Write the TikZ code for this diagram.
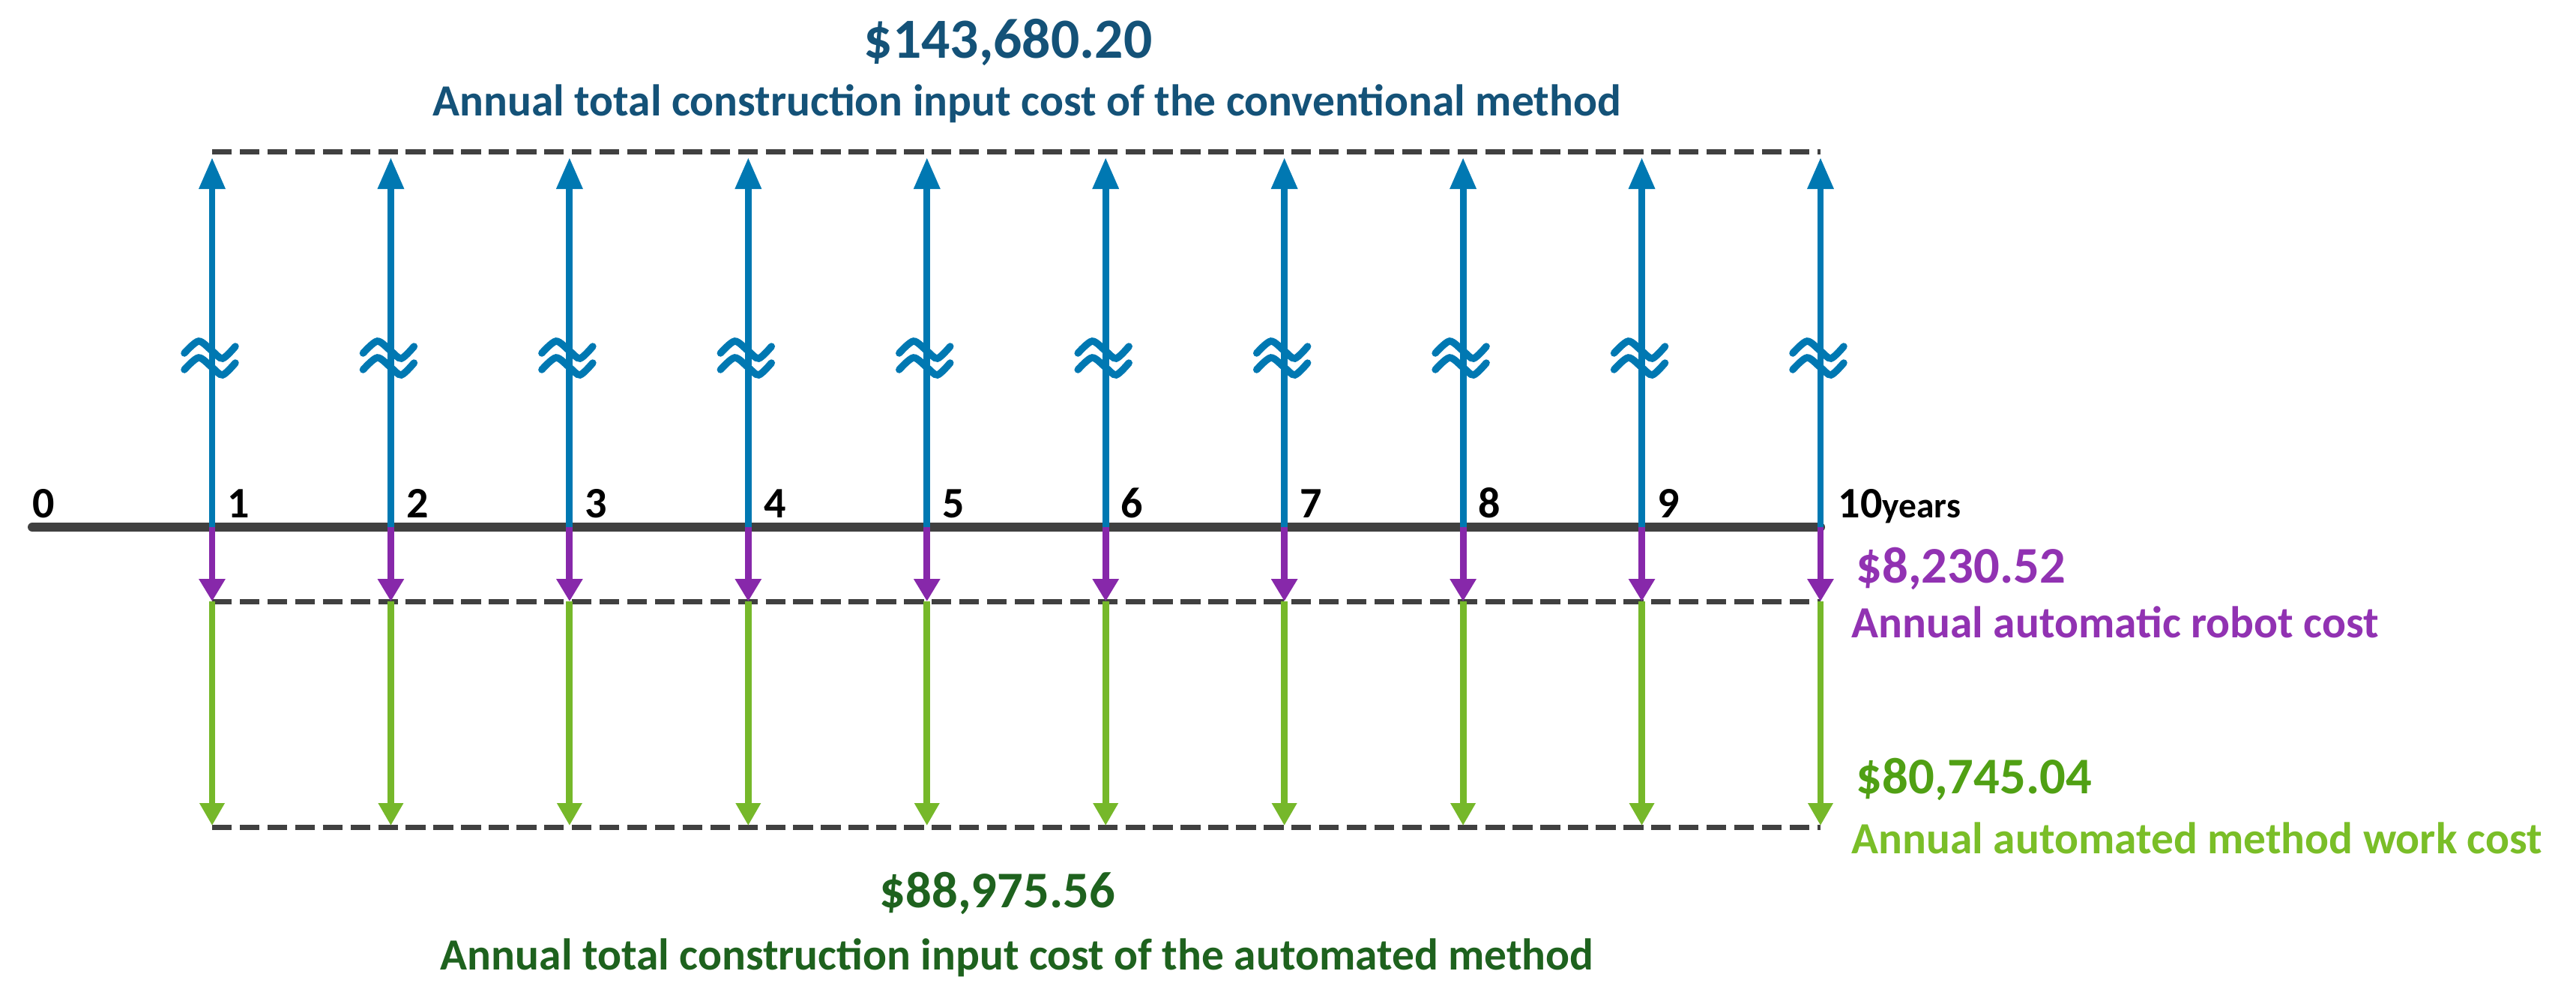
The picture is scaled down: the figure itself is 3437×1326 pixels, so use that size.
\documentclass[tikz,border=0pt]{standalone}
\usepackage{fontspec}
\setmainfont{Carlito}
\usetikzlibrary{arrows.meta}
\definecolor{axisgray}{HTML}{404040}
\definecolor{blueA}{RGB}{0,120,178}
\definecolor{purpleA}{RGB}{135,40,170}
\definecolor{greenA}{RGB}{118,184,42}
\definecolor{topblue}{RGB}{20,82,120}
\definecolor{botgreen}{RGB}{30,98,30}
\definecolor{purpleT}{RGB}{145,50,178}
\definecolor{greenV}{RGB}{80,160,20}
\definecolor{greenT}{RGB}{122,190,40}
\begin{document}
\begin{tikzpicture}[x=0.01cm,y=-0.01cm,
  upflow/.style={draw=blueA, line width=2.5pt, -{Triangle[length=12pt,width=9.5pt]}},
  robotflow/.style={draw=purpleA, line width=2.5pt, -{Triangle[length=8.5pt,width=9.5pt]}},
  workflow/.style={draw=greenA, line width=2.5pt, -{Triangle[length=8.5pt,width=9pt]}},
  levelline/.style={draw=axisgray, line width=2pt, dash pattern=on 7.5pt off 3pt},
  timeaxis/.style={draw=axisgray, line width=3.4pt, line cap=round},
  breakmark/.style={draw=blueA, line width=2.7pt, line cap=round},
  ticklabel/.style={inner sep=0pt, anchor=base west, font=\bfseries\fontsize{16.5}{18}\selectfont},
  bigval/.style={inner sep=0pt, font=\bfseries\fontsize{19.5}{22}\selectfont},
  topvalstyle/.style={inner sep=0pt, font=\bfseries\fontsize{21.5}{24}\selectfont},
  caption/.style={inner sep=0pt, font=\bfseries\fontsize{16.9}{19}\selectfont}
]
\useasboundingbox (0,0) rectangle (3437,1326);

% axis
\coordinate (origin) at (43,703);
\coordinate (axisend) at (2429,703);
\draw[timeaxis] (origin) -- (axisend);

% level lines
\coordinate (topL) at (283,202);
\coordinate (topR) at (2429,202);
\coordinate (midL) at (283,802);
\coordinate (midR) at (2429,802);
\coordinate (botL) at (283,1103);
\coordinate (botR) at (2429,1103);
\draw[levelline] (topL) -- (topR);
\draw[levelline] (midL) -- (midR);
\draw[levelline] (botL) -- (botR);

\foreach \i in {1,...,10}{
  \pgfmathsetmacro\xx{283+(\i-1)*238.44}
  \coordinate (a\i) at (\xx,703);
  \coordinate (t\i) at (\xx,210);
  \coordinate (p\i) at (\xx,802);
  \coordinate (g\i) at (\xx,1101);
  \draw[upflow] (a\i) -- (t\i);
  \draw[robotflow] (a\i) -- (p\i);
  \draw[workflow] (p\i) -- (g\i);
  \draw[breakmark] plot[smooth] coordinates {(\xx-37,471) (\xx-18,455) (\xx,468) (\xx+14,478) (\xx+31,462)};
  \draw[breakmark] plot[smooth] coordinates {(\xx-37,493) (\xx-18,477) (\xx,490) (\xx+14,500) (\xx+31,484)};
}

% tick labels
\node[ticklabel] (l0) at (43,690) {0};
\foreach \i in {1,...,9}{
  \pgfmathsetmacro\xx{283+(\i-1)*238.44+20}
  \node[ticklabel] (l\i) at (\xx,690) {\i};
}
\node[ticklabel] (l10) at (2452,690) {10{\fontsize{13.5}{15}\selectfont years}};

% texts
\node[topvalstyle, text=topblue, anchor=base] (topval) at (1345,77) {\$143,680.20};
\node[caption, text=topblue, anchor=base] (topcap) at (1370,154) {Annual total construction input cost of the conventional method};
\node[bigval, text=purpleT, anchor=base west] (robval) at (2476,777) {\$8,230.52};
\node[caption, text=purpleT, anchor=base west] (robcap) at (2470,850) {Annual automatic robot cost};
\node[bigval, text=greenV, anchor=base west] (workval) at (2476,1058) {\$80,745.04};
\node[caption, text=greenT, anchor=base west] (workcap) at (2470,1138) {Annual automated method work cost};
\node[bigval, text=botgreen, anchor=base] (botval) at (1331,1210) {\$88,975.56};
\node[caption, text=botgreen, anchor=base] (botcap) at (1357,1293) {Annual total construction input cost of the automated method};
\end{tikzpicture}
\end{document}
